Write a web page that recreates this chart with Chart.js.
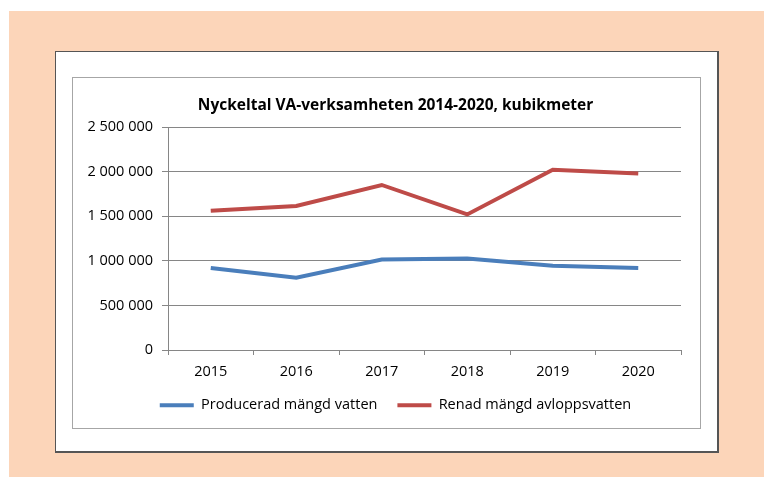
<!DOCTYPE html>
<html>
<head>
    <script src="https://cdn.jsdelivr.net/npm/chart.js"></script>
    <style>
        body { margin: 0; background: white; }
        #peach { position: absolute; left: 9px; top: 11px; width: 755px; height: 466px; background: #fcd5b9; }
        #outer { position: absolute; left: 55px; top: 51px; width: 661px; height: 399px; background: white; border: 1px solid #555; border-right-width: 2px; border-bottom-width: 2px; }
        #inner { position: absolute; left: 72px; top: 77px; width: 627px; height: 350px; border: 1px solid #a6a6a6; background: white; }
        #chart { position: absolute; left: 0; top: 0; }
    </style>
</head>
<body>
    <div id="peach"></div>
    <div id="outer"></div>
    <div id="inner"><canvas id="chart" width="645" height="350"></canvas></div>
    <script>
        const years = ['2015', '2016', '2017', '2018', '2019', '2020'];
        const producerad = [920000, 810000, 1015000, 1025000, 945000, 920000];
        const renad = [1560000, 1615000, 1850000, 1520000, 2020000, 1980000];
        const seriesNames = ['Producerad mängd vatten', 'Renad mängd avloppsvatten'];
        const chartTitle = 'Nyckeltal VA-verksamheten 2014-2020, kubikmeter';

        const font = "'Open Sans', sans-serif";

        new Chart(document.getElementById('chart'), {
            type: 'line',
            data: {
                labels: years,
                datasets: [
                    {
                        label: seriesNames[0],
                        data: producerad,
                        borderColor: '#4a7ebb',
                        backgroundColor: '#4a7ebb',
                        borderWidth: 4,
                        pointRadius: 0,
                        tension: 0
                    },
                    {
                        label: seriesNames[1],
                        data: renad,
                        borderColor: '#be4b48',
                        backgroundColor: '#be4b48',
                        borderWidth: 4,
                        pointRadius: 0,
                        tension: 0
                    }
                ]
            },
            options: {
                responsive: false,
                animation: false,
                layout: { padding: { left: 0, right: 0, top: 0, bottom: 5.5 } },
                plugins: {
                    title: {
                        display: true,
                        text: chartTitle,
                        color: '#000',
                        font: { family: font, size: 15.5, weight: 'bold' },
                        padding: { top: 18, bottom: 12.4 }
                    },
                    legend: {
                        position: 'bottom',
                        labels: {
                            color: '#000',
                            font: { family: font, size: 14.5 },
                            boxWidth: 34,
                            boxHeight: 4,
                            padding: 20,
                            generateLabels: function (chart) {
                                return chart.data.datasets.map(function (ds, i) {
                                    return {
                                        text: ds.label,
                                        fillStyle: ds.borderColor,
                                        strokeStyle: ds.borderColor,
                                        lineWidth: 0,
                                        datasetIndex: i
                                    };
                                });
                            }
                        }
                    },
                    tooltip: { enabled: false }
                },
                scales: {
                    x: {
                        offset: true,
                        afterFit: function (s) { s.height = 28; },
                        grid: {
                            offset: true,
                            drawOnChartArea: false,
                            drawTicks: true,
                            tickLength: 5,
                            color: '#868686'
                        },
                        border: { color: '#868686' },
                        ticks: { color: '#000', font: { family: font, size: 14.5 }, padding: 8, maxRotation: 0 }
                    },
                    y: {
                        min: 0,
                        max: 2500000,
                        afterFit: function (s) { s.width = 95; },
                        grid: { color: '#868686', tickLength: 6 },
                        border: { color: '#868686' },
                        ticks: {
                            stepSize: 500000,
                            color: '#000',
                            font: { family: font, size: 14.5 },
                            padding: 9,
                            callback: function (v) {
                                return String(v).replace(/\B(?=(\d{3})+(?!\d))/g, ' ');
                            }
                        }
                    },
                    // empty right axis, only keeps the plot clear of the right edge
                    y2: {
                        position: 'right',
                        afterFit: function (s) { s.width = 37; },
                        grid: { drawOnChartArea: false, drawTicks: false },
                        border: { display: false },
                        ticks: { display: false }
                    }
                }
            }
        });
    </script>
</body>
</html>
